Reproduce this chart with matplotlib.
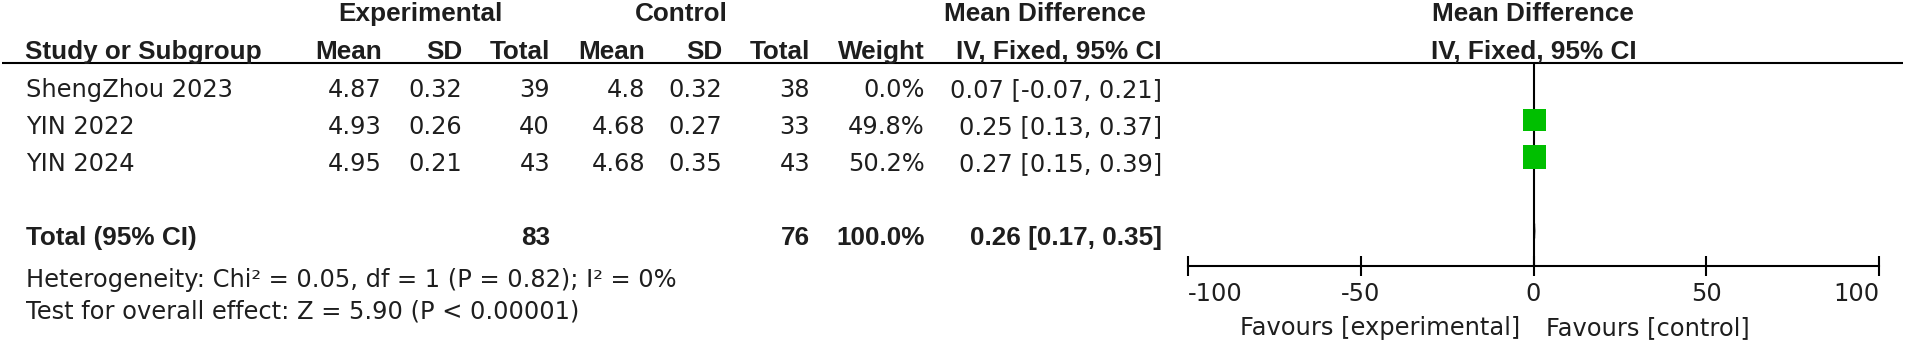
import matplotlib

matplotlib.use("Agg")
import matplotlib.pyplot as plt
from matplotlib.transforms import offset_copy

# study rows
STUDIES = ["ShengZhou 2023", "YIN 2022", "YIN 2024"]
EXP_MEAN = [4.87, 4.93, 4.95]
EXP_SD = [0.32, 0.26, 0.21]
EXP_N = [39, 40, 43]
CTL_MEAN = [4.8, 4.68, 4.68]
CTL_SD = [0.32, 0.27, 0.35]
CTL_N = [38, 33, 43]
WEIGHT = [0.0, 49.8, 50.2]
MD = [0.07, 0.25, 0.27]
CI_LO = [-0.07, 0.13, 0.15]
CI_HI = [0.21, 0.37, 0.39]

# pooled result
TOTAL_EXP_N = 83
TOTAL_CTL_N = 76
TOTAL_WEIGHT = 100.0
TOTAL_MD = 0.26
TOTAL_LO = 0.17
TOTAL_HI = 0.35
HETEROGENEITY = "Heterogeneity: Chi\u00b2 = 0.05, df = 1 (P = 0.82); I\u00b2 = 0%"
OVERALL = "Test for overall effect: Z = 5.90 (P < 0.00001)"

AXIS_TICKS = [-100, -50, 0, 50, 100]
LEFT_LABEL = "Favours [experimental]"
RIGHT_LABEL = "Favours [control]"

# layout, in pixels of the 1905 x 343 canvas
W, H = 1905, 343
ROW0 = 83
STEP = 37
BASE_OFF = 14
LINE_Y = 63
AXIS_Y = 266
PLOT_L, PLOT_R = 1188, 1879
COLS = {
    "exp_mean": 382, "exp_sd": 462, "exp_n": 550,
    "ctl_mean": 645, "ctl_sd": 722, "ctl_n": 810,
    "weight": 925, "ci": 1162,
}

INK = "#1e1e1e"
GREEN = "#00BF00"
REG = dict(family="DejaVu Sans", fontsize=17.4, color=INK)
BOLD = dict(family="Liberation Sans", fontsize=18.8, fontweight="bold", color=INK)


def row_base(i: float) -> float:
    return ROW0 + STEP * i + BASE_OFF


fig = plt.figure(figsize=(W / 100, H / 100), dpi=100)
tab = fig.add_axes([0, 0, 1, 1])
tab.set_xlim(0, W)
tab.set_ylim(H, 0)
tab.axis("off")

# headers
for label, x in [("Experimental", 420), ("Control", 681), ("Mean Difference", 1045), ("Mean Difference", 1533)]:
    tab.text(x, 21, label, ha="center", va="baseline", **BOLD)
tab.text(25, 59, "Study or Subgroup", ha="left", va="baseline", **BOLD)
for label, key in [("Mean", "exp_mean"), ("SD", "exp_sd"), ("Total", "exp_n"), ("Mean", "ctl_mean"),
                   ("SD", "ctl_sd"), ("Total", "ctl_n"), ("Weight", "weight"), ("IV, Fixed, 95% CI", "ci")]:
    tab.text(COLS[key], 59, label, ha="right", va="baseline", **BOLD)
tab.text((PLOT_L + PLOT_R) / 2, 59, "IV, Fixed, 95% CI", ha="center", va="baseline", **BOLD)
tab.plot([2, W - 2], [LINE_Y, LINE_Y], color="black", lw=1.5, solid_capstyle="butt")

# study rows
for i, name in enumerate(STUDIES):
    y = row_base(i)
    tab.text(26, y, name, ha="left", va="baseline", **REG)
    cells = [
        ("exp_mean", f"{EXP_MEAN[i]:g}"), ("exp_sd", f"{EXP_SD[i]:g}"), ("exp_n", f"{EXP_N[i]}"),
        ("ctl_mean", f"{CTL_MEAN[i]:g}"), ("ctl_sd", f"{CTL_SD[i]:g}"), ("ctl_n", f"{CTL_N[i]}"),
        ("weight", f"{WEIGHT[i]:.1f}%"), ("ci", f"{MD[i]:.2f} [{CI_LO[i]:.2f}, {CI_HI[i]:.2f}]"),
    ]
    for key, txt in cells:
        tab.text(COLS[key], y, txt, ha="right", va="baseline", **REG)

# total row
total_row = len(STUDIES) + 1
yt = row_base(total_row)
tab.text(26, yt, "Total (95% CI)", ha="left", va="baseline", **BOLD)
tab.text(COLS["exp_n"], yt, f"{TOTAL_EXP_N}", ha="right", va="baseline", **BOLD)
tab.text(COLS["ctl_n"], yt, f"{TOTAL_CTL_N}", ha="right", va="baseline", **BOLD)
tab.text(COLS["weight"], yt, f"{TOTAL_WEIGHT:.1f}%", ha="right", va="baseline", **BOLD)
tab.text(COLS["ci"], yt, f"{TOTAL_MD:.2f} [{TOTAL_LO:.2f}, {TOTAL_HI:.2f}]", ha="right", va="baseline", **BOLD)
tab.text(26, 287, HETEROGENEITY, ha="left", va="baseline", **REG)
tab.text(26, 318, OVERALL, ha="left", va="baseline", **REG)

# forest panel
ax = fig.add_axes([PLOT_L / W, 1 - AXIS_Y / H, (PLOT_R - PLOT_L) / W, (AXIS_Y - LINE_Y) / H])
ax.set_facecolor("none")
ax.set_xlim(AXIS_TICKS[0], AXIS_TICKS[-1])
ax.set_ylim((AXIS_Y - ROW0) / STEP, (LINE_Y - ROW0) / STEP)
rows = list(range(len(STUDIES)))
ax.axvline(0, color="black", lw=1.5, zorder=1)
ax.hlines(rows, CI_LO, CI_HI, color="black", lw=1.0, zorder=2)
ax.scatter(MD, rows, s=[274 * w / 50 for w in WEIGHT], marker="s", color=GREEN, linewidths=0, zorder=3)
ax.fill([TOTAL_LO, TOTAL_MD, TOTAL_HI, TOTAL_MD],
        [total_row, total_row - 0.2, total_row, total_row + 0.2], color="black", zorder=3)

for side in ["top", "left", "right"]:
    ax.spines[side].set_visible(False)
ax.spines["bottom"].set_linewidth(1.5)
ax.set_yticks([])
ax.set_xticks(AXIS_TICKS, labels=[f"{t:g}" for t in AXIS_TICKS])
ax.tick_params(axis="x", direction="inout", length=14.4, width=1.5, pad=4.3,
               labelsize=17.4, labelcolor=INK, color="black")
for lab in ax.get_xticklabels():
    lab.set_family("DejaVu Sans")
labels = ax.get_xticklabels()
labels[0].set_ha("left")
labels[-1].set_ha("right")

fav_y = (335 - ROW0) / STEP
ax.text(0, fav_y, LEFT_LABEL, ha="right", va="baseline", clip_on=False,
        transform=offset_copy(ax.transData, fig=fig, x=-13, y=0, units="dots"), **REG)
ax.text(0, fav_y, RIGHT_LABEL, ha="left", va="baseline", clip_on=False,
        transform=offset_copy(ax.transData, fig=fig, x=12, y=0, units="dots"), **REG)

fig.savefig("out.png", dpi=100)
